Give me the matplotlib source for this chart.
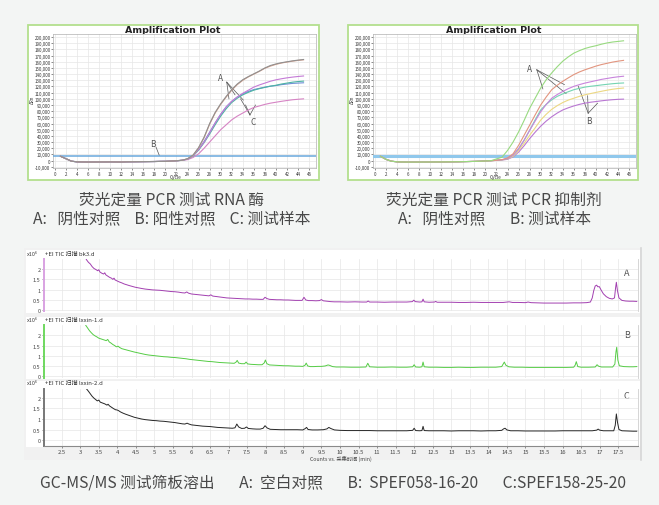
import matplotlib
matplotlib.use('Agg')
import matplotlib.pyplot as plt
from matplotlib.patches import Rectangle

plt.rcParams['font.family'] = ['Noto Sans CJK SC', 'DejaVu Sans']

# ---------------- data: qPCR (values in thousands of ΔRn) ----------------
cycles = list(range(1, 46))
base_left = [7.0, 3.0, -1.0, -2.0, -2.2, -2.3, -2.3, -2.2, -2.2, -2.1, -2.2, -2.3,
             -2.0, -1.9, -1.8, -1.7, -1.6, -1.5, -1.3, -1.2, -0.8, -0.3, 0.5]
left_gray = [3, 9, 21, 38, 60, 78, 92, 104, 115, 124, 131, 136, 140.5, 145, 150, 154,
             156.5, 158.5, 160, 161.5, 162.7, 163.7]
left_salmon = [2.8, 8.5, 20.5, 37, 59, 77, 91, 103, 114, 123, 130, 135.5, 140, 144.5,
               149.5, 153, 155.8, 158, 159.6, 161, 162.2, 163.2]
left_magenta = [2.5, 8, 18, 30, 45, 61, 75, 87, 96, 103, 109, 114, 119, 122.5, 125.5,
                128.5, 130.8, 132.5, 134, 135.2, 136.2, 137]
left_teal = [2.5, 7.5, 17, 29, 43, 58, 72, 84, 94, 101, 106.5, 110.5, 114, 116.5, 118.5,
             120.5, 122, 124, 125.5, 127, 128, 128.7]
left_blue = [2.5, 8, 18, 31, 46, 61, 75, 87, 96, 103, 108, 112, 115, 117, 119, 120.5,
             121.5, 123, 124, 125, 125.5, 126]
left_pink = [1.5, 5, 11, 20, 30, 40, 50, 58, 66, 72, 77, 82, 86, 88.5, 91, 93, 94.5, 96,
             97.3, 98.5, 99.3, 100]
left_threshold = 7.1

base_right = [7.0, 2.0, -1.0, -2.0, -2.3, -2.4, -2.4, -2.4, -2.3, -2.3, -2.2, -2.2,
              -2.1, -2.0, -1.9, -1.7, -1.5, -1.3, -1.0, -0.6, -0.2]
right_green = [2.7, 5.5, 16.4, 30, 46.4, 65, 84.7, 101, 117.5, 131, 142, 152, 161, 168,
               174, 178, 181.5, 184, 186, 188.5, 190.5, 192, 193, 194]
right_salmon = [0.5, 1.5, 4.4, 11, 24.6, 41, 57.4, 74, 90, 103, 114.8, 122, 128.4, 134,
                139.3, 143.5, 147, 150, 153, 155.5, 157.5, 159.5, 161, 162.3]
right_magenta = [0.5, 1.3, 3, 9, 19, 33, 49, 64, 79, 91, 101, 107, 112, 116.5, 120.2,
                 123, 125.5, 127.5, 129.5, 131.5, 133, 134.5, 135.7, 136.6]
right_teal = [0.5, 1.3, 3, 9, 19, 33, 49, 66, 82, 91, 98.4, 104, 108, 111.5, 114.8, 117,
              119, 120.3, 121.3, 122.5, 123.5, 124.5, 125.2, 125.7]
right_yellow = [0.4, 1.2, 2.5, 7, 16.4, 28, 41, 53, 65.6, 75, 83, 89, 94, 98, 101, 104,
                106.5, 108.5, 110.4, 112.2, 114, 115.5, 116.7, 117.5]
right_purple = [0.3, 1.0, 2, 6, 13.7, 24, 35.5, 46, 55.7, 64, 71, 77, 82, 85.5, 88.5, 91,
                93, 94.5, 95.6, 96.8, 97.8, 98.6, 99.2, 99.5]
right_threshold = 7.0

qpcr_xticks = list(range(0, 47, 2))
qpcr_yticks = list(range(-10, 201, 10))

# ---------------- data: GC-MS TIC (x10^6 counts) ----------------
tA = [3.10, 3.17, 3.22, 3.27, 3.32, 3.37, 3.42, 3.47, 3.50, 3.53, 3.58, 3.63, 3.66, 3.69,
      3.74, 3.79, 3.84, 3.88, 3.91, 3.94, 4.00, 4.06, 4.12, 4.18, 4.25, 4.32, 4.40, 4.48,
      4.56, 4.65, 4.75, 4.85, 4.95, 5.05, 5.15, 5.25, 5.35, 5.45, 5.55, 5.65, 5.75, 5.82,
      5.87, 5.92, 6.00, 6.10, 6.20, 6.30, 6.40, 6.47, 6.52, 6.57, 6.65, 6.75, 6.85, 6.95,
      7.05, 7.15, 7.25, 7.35, 7.45, 7.55, 7.65, 7.75, 7.85, 7.93, 7.98, 8.03, 8.10, 8.20,
      8.30, 8.40, 8.50, 8.60, 8.70, 8.80, 8.90, 8.98, 9.03, 9.08, 9.15, 9.25, 9.35, 9.45,
      9.50, 9.55, 9.65, 9.75, 9.85, 10.0, 10.2, 10.4, 10.6, 10.72, 10.76, 10.80, 11.0, 11.2,
      11.4, 11.6, 11.8, 11.95, 11.99, 12.03, 12.15, 12.21, 12.24, 12.27, 12.40, 12.55, 12.58,
      12.62, 12.8, 13.0, 13.2, 13.4, 13.6, 13.8, 14.0, 14.2, 14.4, 14.56, 14.65, 14.8, 15.0,
      15.07, 15.15, 15.3, 15.5, 15.7, 15.9, 16.1, 16.3, 16.5, 16.65, 16.75, 16.80, 16.84,
      16.88, 16.92, 16.95, 16.99, 17.04, 17.10, 17.18, 17.26, 17.34, 17.40, 17.43, 17.45,
      17.48, 17.52, 17.60, 17.70, 17.80, 17.90, 18.0]
yA = [2.70, 2.45, 2.33, 2.25, 2.12, 2.03, 1.98, 1.92, 1.97, 1.86, 1.80, 1.76, 1.82, 1.72,
      1.66, 1.60, 1.56, 1.50, 1.56, 1.47, 1.42, 1.37, 1.33, 1.28, 1.24, 1.20, 1.16, 1.12,
      1.09, 1.06, 1.03, 1.01, 0.99, 0.98, 0.97, 0.95, 0.93, 0.91, 0.90, 0.88, 0.85, 0.84,
      0.89, 0.83, 0.79, 0.77, 0.75, 0.73, 0.71, 0.70, 0.75, 0.69, 0.67, 0.64, 0.62, 0.60,
      0.59, 0.58, 0.57, 0.56, 0.55, 0.55, 0.54, 0.54, 0.53, 0.53, 0.63, 0.57, 0.53, 0.52,
      0.51, 0.51, 0.50, 0.50, 0.49, 0.48, 0.48, 0.48, 0.63, 0.50, 0.47, 0.47, 0.46, 0.47,
      0.52, 0.46, 0.44, 0.42, 0.41, 0.41, 0.40, 0.41, 0.40, 0.40, 0.45, 0.40, 0.40, 0.39,
      0.40, 0.40, 0.40, 0.42, 0.49, 0.42, 0.40, 0.41, 0.54, 0.41, 0.39, 0.40, 0.43,
      0.39, 0.39, 0.39, 0.38, 0.38, 0.39, 0.38, 0.38, 0.38, 0.38, 0.41, 0.38, 0.38, 0.37,
      0.40, 0.37, 0.36, 0.35, 0.35, 0.35, 0.35, 0.36, 0.36, 0.37, 0.40, 0.60, 0.95,
      1.18, 1.22, 1.14, 1.15, 0.98, 0.80, 0.66, 0.58, 0.55, 0.60, 1.10, 1.36,
      0.95, 0.60, 0.48, 0.45, 0.44, 0.44, 0.43]

tB = [3.10, 3.15, 3.20, 3.25, 3.30, 3.35, 3.40, 3.45, 3.50, 3.55, 3.60, 3.65, 3.70, 3.74,
      3.78, 3.83, 3.88, 3.93, 3.97, 4.02, 4.06, 4.12, 4.20, 4.28, 4.36, 4.45, 4.55, 4.65,
      4.75, 4.85, 4.95, 5.05, 5.15, 5.25, 5.35, 5.45, 5.55, 5.65, 5.75, 5.85, 5.95, 6.05,
      6.15, 6.25, 6.35, 6.45, 6.55, 6.65, 6.75, 6.85, 6.95, 7.05, 7.15, 7.20, 7.23, 7.27,
      7.35, 7.43, 7.47, 7.51, 7.60, 7.70, 7.80, 7.90, 7.96, 7.99, 8.03, 8.10, 8.20, 8.30,
      8.40, 8.50, 8.60, 8.70, 8.80, 8.90, 9.00, 9.06, 9.09, 9.13, 9.20, 9.30, 9.40, 9.50,
      9.60, 9.68, 9.72, 9.80, 9.9, 10.1, 10.3, 10.5, 10.70, 10.75, 10.80, 11.0, 11.2, 11.4,
      11.6, 11.8, 11.96, 12.00, 12.04, 12.15, 12.21, 12.24, 12.27, 12.4, 12.6, 12.8, 13.0,
      13.2, 13.4, 13.6, 13.8, 14.0, 14.2, 14.36, 14.40, 14.43, 14.47, 14.55, 14.7, 14.9,
      15.1, 15.3, 15.5, 15.7, 15.9, 16.1, 16.3, 16.34, 16.37, 16.41, 16.5, 16.7, 16.88,
      16.93, 16.97, 17.05, 17.2, 17.35, 17.41, 17.44, 17.46, 17.49, 17.53, 17.65, 17.8,
      17.9, 18.0]
yB = [2.70, 2.48, 2.35, 2.22, 2.12, 2.03, 1.97, 1.92, 1.86, 1.83, 1.80, 1.77, 1.74, 1.80,
      1.68, 1.62, 1.55, 1.50, 1.44, 1.47, 1.41, 1.35, 1.31, 1.27, 1.23, 1.19, 1.15, 1.11,
      1.07, 1.04, 1.02, 1.00, 0.98, 0.96, 0.95, 0.93, 0.92, 0.90, 0.88, 0.86, 0.83, 0.81,
      0.79, 0.77, 0.75, 0.73, 0.72, 0.70, 0.68, 0.67, 0.66, 0.65, 0.64, 0.70, 0.78, 0.65,
      0.62, 0.62, 0.70, 0.61, 0.59, 0.58, 0.57, 0.57, 0.66, 0.80, 0.62, 0.56, 0.55, 0.54,
      0.53, 0.52, 0.52, 0.51, 0.50, 0.50, 0.49, 0.55, 0.65, 0.51, 0.48, 0.48, 0.49, 0.49,
      0.51, 0.56, 0.54, 0.48, 0.46, 0.46, 0.45, 0.45, 0.46, 0.64, 0.47, 0.45, 0.45, 0.46,
      0.45, 0.45, 0.47, 0.57, 0.46, 0.45, 0.47, 0.70, 0.47, 0.45, 0.45, 0.44, 0.44,
      0.45, 0.44, 0.44, 0.45, 0.45, 0.45, 0.48, 0.60, 0.70, 0.55, 0.47, 0.45, 0.45,
      0.44, 0.44, 0.44, 0.44, 0.44, 0.44, 0.45, 0.55, 0.72, 0.48, 0.45, 0.45, 0.46,
      0.57, 0.50, 0.46, 0.46, 0.46, 0.60, 1.20, 1.42, 0.80, 0.52, 0.48, 0.47,
      0.47, 0.48]

tC = [3.10, 3.17, 3.22, 3.27, 3.32, 3.37, 3.42, 3.46, 3.50, 3.54, 3.60, 3.66, 3.72, 3.75,
      3.79, 3.85, 3.90, 3.95, 3.99, 4.03, 4.08, 4.15, 4.22, 4.30, 4.38, 4.46, 4.55, 4.65,
      4.75, 4.85, 4.95, 5.05, 5.15, 5.25, 5.35, 5.45, 5.55, 5.65, 5.75, 5.82, 5.88, 5.93,
      6.00, 6.10, 6.20, 6.30, 6.40, 6.50, 6.60, 6.70, 6.80, 6.90, 7.00, 7.10, 7.17, 7.22,
      7.27, 7.35, 7.43, 7.48, 7.53, 7.65, 7.75, 7.85, 7.93, 7.98, 8.04, 8.12, 8.25, 8.40,
      8.55, 8.70, 8.85, 9.00, 9.06, 9.10, 9.14, 9.25, 9.40, 9.55, 9.65, 9.70, 9.75, 9.85,
      10.0, 10.2, 10.4, 10.6, 10.8, 11.0, 11.2, 11.4, 11.6, 11.8, 11.96, 12.00, 12.04, 12.15,
      12.21, 12.24, 12.27, 12.4, 12.6, 12.8, 13.0, 13.2, 13.4, 13.6, 13.8, 14.0, 14.2, 14.36,
      14.41, 14.45, 14.50, 14.6, 14.8, 15.0, 15.2, 15.4, 15.6, 15.8, 16.0, 16.2, 16.4, 16.6,
      16.8, 16.92, 16.96, 17.00, 17.1, 17.25, 17.38, 17.42, 17.45, 17.48, 17.52, 17.6,
      17.75, 17.9, 18.0]
yC = [2.70, 2.43, 2.32, 2.20, 2.08, 1.99, 1.92, 1.86, 1.90, 1.80, 1.76, 1.72, 1.66, 1.70,
      1.62, 1.55, 1.49, 1.44, 1.43, 1.40, 1.34, 1.28, 1.23, 1.18, 1.13, 1.08, 1.04, 1.00,
      0.97, 0.95, 0.93, 0.92, 0.90, 0.89, 0.87, 0.85, 0.83, 0.80, 0.77, 0.76, 0.80, 0.76,
      0.72, 0.70, 0.68, 0.66, 0.65, 0.64, 0.62, 0.60, 0.59, 0.58, 0.57, 0.56, 0.58, 0.76,
      0.62, 0.55, 0.56, 0.62, 0.55, 0.53, 0.52, 0.52, 0.56, 0.68, 0.57, 0.51, 0.50, 0.49,
      0.49, 0.49, 0.49, 0.48, 0.54, 0.60, 0.50, 0.48, 0.48, 0.49, 0.53, 0.60, 0.55, 0.48,
      0.46, 0.45, 0.45, 0.45, 0.45, 0.44, 0.44, 0.44, 0.44, 0.44, 0.46, 0.56, 0.45, 0.44,
      0.45, 0.65, 0.45, 0.44, 0.44, 0.44, 0.43, 0.44, 0.44, 0.44, 0.43, 0.44, 0.44, 0.46,
      0.53, 0.56, 0.48, 0.44, 0.44, 0.43, 0.43, 0.43, 0.43, 0.43, 0.44, 0.44, 0.44, 0.44,
      0.44, 0.47, 0.52, 0.47, 0.44, 0.44, 0.44, 0.70, 1.24, 0.85, 0.50, 0.44,
      0.43, 0.42, 0.42]

gc_xticks = [2.5, 3, 3.5, 4, 4.5, 5, 5.5, 6, 6.5, 7, 7.5, 8, 8.5, 9, 9.5, 10, 10.5, 11,
             11.5, 12, 12.5, 13, 13.5, 14, 14.5, 15, 15.5, 16, 16.5, 17, 17.5]
gc_xlabels = ['2.5', '3', '3.5', '4', '4.5', '5', '5.5', '6', '6.5', '7', '7.5', '8', '8.5',
              '9', '9.5', '10', '10.5', '11', '11.5', '12', '12.5', '13', '13.5', '14',
              '14.5', '15', '15.5', '16', '16.5', '17', '17.5']
gc_yticks = [0, 0.5, 1, 1.5, 2]
gc_ylabels = ['0', '0.5', '1', '1.5', '2']

# ---------------- figure ----------------
W, H = 659, 506
fig = plt.figure(figsize=(W / 100, H / 100), dpi=100)
fig.patch.set_facecolor('#f3f5f4')

bg = fig.add_axes([0, 0, 1, 1])
bg.set_xlim(0, W)
bg.set_ylim(H, 0)
bg.axis('off')


def px_axes(x0, y0, x1, y1):
    return fig.add_axes([x0 / W, 1 - y1 / H, (x1 - x0) / W, (y1 - y0) / H])


# panel frames
for (x0, x1) in [(27.5, 319), (347.5, 637.5)]:
    bg.add_patch(Rectangle((x0, 26), x1 - x0, 155, facecolor='white',
                           edgecolor='#b3df8e', linewidth=1.3))

# bottom box
bg.add_patch(Rectangle((24, 249), 617, 212, facecolor='#f1f1f1', edgecolor='none'))
bg.add_patch(Rectangle((26, 251), 614, 63, facecolor='white', edgecolor='none'))
bg.add_patch(Rectangle((26, 318), 614, 61.5, facecolor='white', edgecolor='none'))
bg.add_patch(Rectangle((26, 381.5), 614, 66, facecolor='white', edgecolor='none'))
bg.plot([640.5, 640.5], [249, 461], color='#d6d6d6', lw=1.2)


def qpcr_axes(x0, curves, thr, thr_lw, thr_col, title_x):
    ax = px_axes(x0, 35, x0 + 262.4, 169)
    ax.set_xlim(-0.3, 47.2)
    ax.set_ylim(-12, 205)
    ax.set_xticks(qpcr_xticks)
    ax.set_xticklabels([str(v) for v in qpcr_xticks])
    ax.set_yticks(qpcr_yticks)
    ax.set_yticklabels([f"{v * 1000:,}" for v in qpcr_yticks])
    ax.tick_params(labelsize=3.2, length=1.2, width=0.4, pad=0.8, colors='#333333')
    ax.grid(True, color='#e6e6e6', lw=0.5)
    ax.set_axisbelow(True)
    for s in ax.spines.values():
        s.set_color('#b0b0b0')
        s.set_linewidth(0.5)
    ax.axhline(thr, color=thr_col, lw=thr_lw, zorder=3)
    for (vals, col) in curves:
        ax.plot(cycles, vals, color=col, lw=0.8, zorder=4)
    bg.text(title_x, 30.5, 'Amplification Plot', fontsize=6.8, fontweight='bold',
            ha='center', va='center', color='#222222', family=['DejaVu Sans'])
    bg.text(x0 - 20.5, 100, 'ΔRn', fontsize=3.2, rotation=90, ha='center', va='center',
            color='#333333')
    bg.text(x0 + 122, 177.8, 'Cycle', fontsize=3.4, ha='center', va='center', color='#333333')
    return ax


axL = qpcr_axes(53.3, [
    (base_left + left_pink, '#d684c4'),
    (base_left + left_blue, '#6f8fd6'),
    (base_left + left_teal, '#4db3a3'),
    (base_left + left_magenta, '#c47ad6'),
    (base_left + left_salmon, '#d8a08c'),
    (base_left + left_gray, '#909090'),
], left_threshold, 1.1, '#6aa8dc', 172.7)

axR = qpcr_axes(373.3, [
    (base_right + right_purple, '#b977d2'),
    (base_right + right_yellow, '#ecd883'),
    (base_right + right_teal, '#74d4b2'),
    (base_right + right_magenta, '#c884dc'),
    (base_right + right_salmon, '#e2957f'),
    (base_right + right_green, '#98da80'),
], right_threshold, 2.2, '#90c8ec', 493.3)

ann = dict(color='#555555', lw=0.5)
# left annotations
axL.text(29.9, 135, 'A', fontsize=6, color='#555555', ha='center', va='center')
for (cx, cy) in [(31.5, 100), (32.6, 106.5), (34.1, 98)]:
    axL.plot([31.1, cx], [127, cy], **ann)
axL.text(35.8, 63, 'C', fontsize=6, color='#555555', ha='center', va='center')
for (cx, cy) in [(33.6, 100), (34.5, 90), (36.3, 90)]:
    axL.plot([35.3, cx], [74, cy], **ann)
axL.text(17.8, 28, 'B', fontsize=6, color='#555555', ha='center', va='center')
axL.plot([18.3, 18.9], [21.7, 8.1], **ann)
# right annotations
axR.text(28.0, 149, 'A', fontsize=6, color='#555555', ha='center', va='center')
for (cx, cy) in [(30.4, 116), (34.6, 108.5), (34.3, 123)]:
    axR.plot([29.3, cx], [147, cy], **ann)
axR.text(38.8, 64.6, 'B', fontsize=6, color='#555555', ha='center', va='center')
for (cx, cy) in [(36.8, 120.6), (38.5, 105), (40.3, 93)]:
    axR.plot([38.6, cx], [76.8, cy], **ann)

# captions
cap = dict(fontsize=11.3, color='#484848', ha='center', va='center')
bg.text(172, 200, '荧光定量 PCR 测试 RNA 酶', **cap)
bg.text(171.5, 219, 'A:   阴性对照    B: 阳性对照    C: 测试样本', **cap)
bg.text(493.5, 200, '荧光定量 PCR 测试 PCR 抑制剂', **cap)
bg.text(494.5, 219, 'A:   阴性对照       B: 测试样本', **cap)
bg.text(332.5, 484,
        'GC-MS/MS 测试筛板溶出       A:  空白对照       B:  SPEF058-16-20       C:SPEF158-25-20',
        **cap)

# GC-MS panels
panels = [
    (259.8, 312.3, (-0.05, 2.5), tA, yA, '#a23fb0', '#d9a2e2', '+EI TIC 扫描 bk3.d', 255, 'A', 274),
    (326.0, 378.5, (-0.05, 2.5), tB, yB, '#55cc45', '#6fd85f', '+EI TIC 扫描 lxxin-1.d', 321, 'B', 335),
    (389.5, 446.7, (-0.27, 2.45), tC, yC, '#262626', '#777777', '+EI TIC 扫描 lxxin-2.d', 384, 'C', 396.7),
]
for i, (y0, y1, ylim, tt, yy, col, spcol, head, hy, lab, ly) in enumerate(panels):
    ax = px_axes(43.9, y0, 637.5, y1)
    ax.set_facecolor('none')
    ax.set_xlim(2.02, 18.02)
    ax.set_ylim(*ylim)
    ax.set_xticks(gc_xticks)
    ax.set_yticks(gc_yticks)
    ax.set_yticklabels(gc_ylabels)
    ax.grid(True, color='#e6e6e6', lw=0.5)
    ax.set_axisbelow(True)
    ax.plot(tt, yy, color=col, lw=0.7, zorder=3)
    ax.spines['top'].set_visible(False)
    ax.spines['right'].set_color('#cfcfcf')
    ax.spines['right'].set_linewidth(0.6)
    ax.spines['left'].set_color(spcol)
    ax.spines['left'].set_linewidth(1.4)
    ax.tick_params(axis='y', labelsize=4, length=1.5, width=0.4, pad=1, colors='#444444')
    if i < 2:
        ax.spines['bottom'].set_visible(False)
        ax.tick_params(axis='x', labelbottom=False, length=0)
    else:
        ax.spines['bottom'].set_color('#8a8a8a')
        ax.spines['bottom'].set_linewidth(0.8)
        ax.set_xticklabels(gc_xlabels)
        ax.tick_params(axis='x', labelsize=4.2, length=1.5, width=0.4, pad=0.6, colors='#444444')
    bg.text(26.5, hy, 'x10⁶', fontsize=4, color='#444444', ha='left', va='center')
    bg.text(45, hy, head, fontsize=4.3, color='#333333', ha='left', va='center')
    bg.text(626.7, ly, lab, fontsize=6.5, color='#555555', ha='center', va='center')

bg.text(341, 458.5, 'Counts vs. 采集时间 (min)', fontsize=3.8, color='#444444', ha='center', va='center')

fig.savefig('out.png', dpi=100, facecolor=fig.get_facecolor())
